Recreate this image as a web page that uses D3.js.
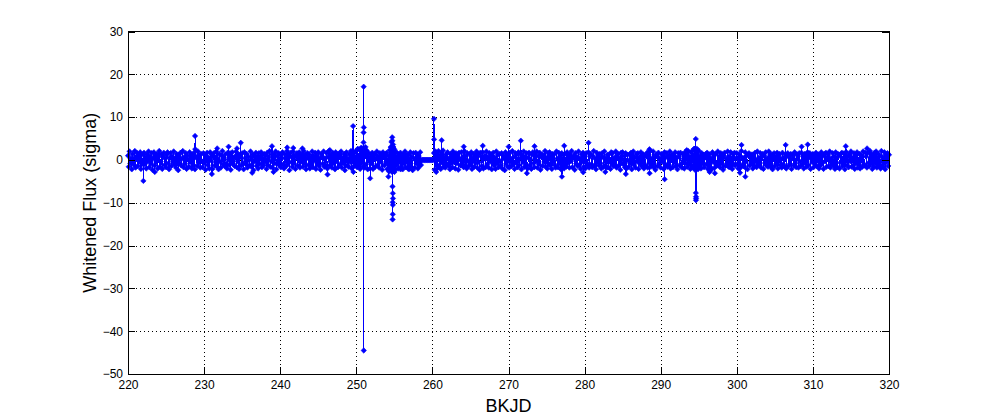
<!DOCTYPE html>
<html>
<head>
<meta charset="utf-8">
<script src="https://cdn.jsdelivr.net/npm/d3@7"></script>
<style>
  html, body { margin: 0; padding: 0; background: #fff; }
  svg { display: block; font-family: "Liberation Sans", Arial, Helvetica, sans-serif; }
</style>
</head>
<body>
<svg id="chart" width="982" height="420"></svg>
<script>
// ---- data ----
const xTicks = [220, 230, 240, 250, 260, 270, 280, 290, 300, 310, 320];
const yTicks = [-50, -40, -30, -20, -10, 0, 10, 20, 30];
const xLabel = "BKJD";
const yLabel = "Whitened Flux (sigma)";

// regularly sampled whitened flux (sigma), first sample at startBKJD, one every cadenceDays
const startBKJD = 220.0;
const cadenceDays = 0.1;
const whitenedFlux = [
  1.0,-1.6,2.0,-0.8,0.4,-2.2,1.4,0.3,-1.2,2.1,      // 220
  -1.8,0.7,1.6,-1.4,0.9,-0.4,1.8,-2.1,1.2,-0.7,     // 221
  -1.0,1.7,-1.0,0.5,-2.0,1.3,-0.3,2.0,-1.7,0.8,     // 222
  -0.9,1.6,-2.3,0.4,1.8,-1.3,1.0,-0.5,1.4,-2.0,     // 223
  0.7,2.1,-1.6,-0.4,1.3,-2.1,0.9,1.7,-1.2,0.3,      // 224
  -1.7,1.2,1.8,-0.8,-2.2,0.5,1.6,-1.4,0.8,-0.3,     // 225
  2.0,-1.0,0.4,-1.8,1.4,0.9,-2.4,1.2,-0.7,1.7,      // 226
  -1.3,0.3,2.1,-1.7,0.7,-0.9,1.6,-2.1,1.0,0.1,      // 227
  -1.6,1.8,-0.5,1.2,-2.0,1.3,-1.2,1.7,-2.2,0.8,     // 228
  0.5,-1.4,2.0,-0.7,1.0,-1.8,1.4,-0.3,-1.7,1.6,     // 229
  -0.8,1.3,-2.3,0.9,1.7,-1.2,0.4,-2.0,1.8,-0.1,     // 230
  1.2,-2.1,0.7,1.6,-1.3,-0.5,2.0,-1.6,0.3,-2.2,     // 231
  1.4,-0.4,-1.8,1.0,2.1,-1.0,0.5,-1.4,1.3,-0.8,     // 232
  -2.0,1.7,0.1,-1.2,1.6,-2.3,0.8,1.8,-0.9,0.4,      // 233
  -1.4,0.9,2.0,-1.7,-0.3,1.3,-2.1,1.2,0.7,-1.3,     // 234
  1.6,-0.7,-2.2,1.8,0.4,-1.0,1.4,-1.8,0.8,-0.1,     // 235
  -1.2,2.0,-1.6,0.5,1.3,-2.4,1.0,-0.4,1.7,-1.4,     // 236
  0.8,-2.0,1.6,-0.9,0.3,1.8,-1.7,1.2,-1.3,1.4,      // 237
  -0.5,1.0,-2.1,1.7,-1.2,0.7,2.1,-1.6,-0.3,1.3,     // 238
  -1.8,0.4,1.4,-0.8,2.0,-2.2,0.9,-0.7,1.6,-1.3,     // 239
  1.2,-1.7,0.5,1.8,-1.0,-2.0,1.3,0.3,-1.4,2.1,      // 240
  -0.9,1.4,-2.4,0.8,1.7,-0.5,-1.6,2.0,-0.8,1.0,     // 241
  -2.1,0.7,1.6,-1.3,0.1,1.8,-1.8,0.9,-0.4,1.4,      // 242
  -1.6,2.1,-0.7,1.2,-2.2,0.4,1.6,-1.2,1.3,-2.0,     // 243
  0.5,-1.0,2.0,-1.7,0.9,-0.1,1.7,-2.1,1.0,-0.8,     // 244
  1.8,-1.4,0.3,-2.3,1.4,0.8,-0.9,2.0,-1.6,0.4,      // 245
  -1.2,1.6,-2.0,0.7,2.1,-1.3,-0.4,1.2,-1.8,1.7,     // 246
  -0.7,1.0,-2.2,1.8,-0.3,1.3,-1.7,0.8,1.6,-1.0,     // 247
  2.0,-1.8,0.4,-0.8,1.4,-2.4,1.0,1.8,-1.3,0.3,      // 248
  -1.6,1.3,-0.5,2.1,-2.0,0.9,0.1,-1.4,1.7,-0.9,     // 249
  2.2,-1.7,2.6,-1.2,2.4,-2.1,2.8,-0.7,2.3,-1.6,     // 250
  2.7,-1.8,2.4,-1.0,2.1,-2.2,1.6,0.5,-2.0,1.3,      // 251
  -0.8,1.7,-2.1,1.0,1.4,-1.6,0.3,2.0,-1.2,0.7,      // 252
  -1.8,1.6,-0.4,1.2,-2.3,1.8,0.8,-1.3,1.4,-0.7,     // 253
  1.7,-2.1,0.9,-2.7,2.3,-2.4,2.9,-2.8,3.0,-2.6,     // 254
  2.4,-2.3,1.8,-1.2,1.6,-2.0,1.0,-0.5,1.7,-1.6,     // 255
  0.8,-2.2,1.4,-0.9,2.0,-1.7,0.4,1.3,-2.0,1.2,      // 256
  -1.0,1.8,-1.6,0.7,-2.4,1.6,0.3,-1.8,1.7,-0.8,     // 257
  1.3,-2.0,0.9,-1.4,1.8,-1.2,0,0,0,0,               // 258 (gap filled with zeros)
  0,0,0,0,0,0,0,0,0,0,                              // 259
  0,0,1.6,-2.3,2.0,-2.8,1.4,-1.2,2.1,-1.7,          // 260
  1.0,-2.1,1.7,-0.7,2.2,-1.6,0.5,-1.8,1.3,-0.9,     // 261
  1.8,-1.3,0.4,-2.2,1.4,0.8,-1.7,2.0,-0.5,1.2,      // 262
  -2.0,1.6,-0.8,1.0,-2.3,1.7,0.1,-1.3,1.8,-1.0,     // 263
  0.7,-1.7,2.1,-1.2,0.9,-2.0,1.6,-0.3,-1.4,1.3,     // 264
  -0.9,1.8,-2.1,0.4,1.4,-1.6,1.2,-0.7,2.0,-1.8,     // 265
  1.3,-0.5,-2.3,1.7,0.8,-1.4,1.8,-2.0,0.3,1.0,      // 266
  -1.7,2.0,-1.0,0.7,-1.8,1.6,-0.4,1.3,-2.2,0.9,     // 267
  1.7,-1.3,0.5,-2.1,2.0,-0.8,1.2,-1.7,1.4,-0.3,     // 268
  -1.2,1.6,-2.0,1.0,0.4,-2.4,1.8,-0.9,1.3,-1.6,     // 269
  0.8,-1.8,1.7,-0.4,-1.4,2.1,-1.0,0.7,-2.1,1.6,     // 270
  -0.7,1.3,-1.7,1.8,-1.2,0.3,1.4,-2.2,1.0,-0.5,     // 271
  2.0,-1.6,0.8,-1.0,1.6,-2.0,0.5,1.7,-1.3,0.1,      // 272
  -2.1,1.2,1.8,-0.8,-1.7,1.4,-0.3,2.0,-1.8,0.9,     // 273
  -1.0,1.7,-2.3,0.7,1.3,-1.4,1.0,-0.5,2.1,-1.6,     // 274
  0.4,-2.0,1.6,-0.9,1.8,-1.3,0.8,-2.1,1.4,-0.4,     // 275
  1.3,-1.2,-1.8,2.0,0.3,-1.7,1.7,-0.8,0.9,-2.2,     // 276
  1.6,-0.5,1.2,-2.0,1.4,-1.0,-1.6,1.8,-0.7,0.8,     // 277
  -1.8,1.4,-0.3,2.1,-1.7,0.5,1.0,-2.3,1.6,-0.9,     // 278
  0.7,-1.4,2.0,-1.2,0.4,-2.1,1.3,-0.4,1.7,-1.6,     // 279
  1.0,-2.0,1.6,-0.7,-1.3,1.8,-1.8,0.8,1.4,-1.0,     // 280
  -1.7,0.9,2.1,-1.4,0.3,-2.2,1.7,-0.5,1.2,-1.3,     // 281
  1.4,-0.8,-2.0,1.6,0.7,-1.6,2.0,-1.2,0.4,-1.8,     // 282
  1.2,-1.7,1.3,-0.3,-2.1,1.8,-0.9,1.6,-1.4,0.5,     // 283
  -1.2,2.0,-1.8,0.8,1.4,-1.3,0.3,-2.3,1.7,-0.7,     // 284
  1.8,-1.0,0.9,-1.7,1.6,-2.0,1.2,-0.1,-1.6,1.3,     // 285
  -0.8,1.7,-2.2,1.0,2.0,-1.2,0.5,-1.8,1.4,-0.4,     // 286
  1.6,-2.1,0.7,-0.9,1.8,-1.4,-0.5,1.3,-2.0,1.0,     // 287
  -1.3,0.8,1.7,-1.8,1.2,-0.7,2.1,-1.6,0.3,-1.2,     // 288
  2.0,-1.7,0.5,-2.3,1.3,0.9,-1.4,1.7,-0.8,0.4,      // 289
  -1.8,1.4,-0.4,1.2,-2.1,1.8,-1.0,0.7,1.6,-1.6,     // 290
  0.9,-1.2,2.0,-2.0,0.4,1.3,-1.7,1.0,-0.5,1.8,      // 291
  -1.4,0.5,-2.2,1.6,0.8,-1.3,1.7,-0.9,-1.8,1.4,     // 292
  0.3,-2.0,1.8,-0.7,1.2,-1.6,2.1,-1.0,0.7,-2.1,     // 293
  1.7,-1.2,2.2,-1.8,2.6,-2.3,2.7,-2.0,2.4,-2.2,     // 294
  2.1,-1.4,1.0,-2.0,1.6,-0.8,1.2,-1.7,0.5,1.4,      // 295
  -1.0,1.7,-2.1,0.7,1.3,-1.6,0.4,-2.2,1.8,-0.5,     // 296
  1.2,-1.8,1.4,-0.8,-1.3,2.0,-1.2,0.9,-1.7,1.6,     // 297
  -0.7,1.3,-2.3,1.0,1.7,-1.4,0.3,-0.9,2.0,-1.6,     // 298
  0.8,-1.7,1.8,-0.5,-2.1,1.4,-1.0,1.7,-1.3,0.4,     // 299
  1.6,-0.9,-2.0,1.3,0.7,-1.8,2.1,-1.2,0.5,-1.4,     // 300
  -1.6,1.8,-0.4,1.0,-2.2,1.2,1.6,-1.3,0.8,-0.7,     // 301
  1.3,-2.0,0.9,-1.4,1.7,-0.3,-1.7,2.0,-1.0,0.5,     // 302
  -1.2,1.6,-1.8,0.7,1.4,-2.1,1.0,-0.7,1.8,-1.3,     // 303
  0.4,-1.6,2.0,-0.9,1.2,-1.7,1.3,-2.2,0.8,1.6,      // 304
  -1.4,0.7,-0.8,1.7,-2.0,1.0,1.4,-1.2,0.3,-1.8,     // 305
  1.7,-1.0,0.5,-1.6,1.3,-2.0,0.9,1.6,-1.4,0.7,      // 306
  -0.9,1.4,-2.1,1.2,0.4,-1.3,1.8,-0.8,-1.7,1.3,     // 307
  1.0,-1.8,1.6,-0.4,-1.4,1.7,-1.0,0.8,-2.0,1.4,     // 308
  -0.8,1.3,-1.6,1.8,-1.2,0.5,1.6,-2.1,0.9,-0.5,     // 309
  1.4,-1.7,0.7,-1.0,1.7,-1.4,0.3,1.3,-2.0,1.0,      // 310
  -1.3,1.8,-0.7,0.9,-2.1,1.4,-0.3,1.7,-1.6,0.5,     // 311
  1.2,-1.4,2.0,-1.8,0.4,-0.9,1.6,-1.3,0.8,-2.1,     // 312
  1.8,-0.7,-1.7,1.4,0.9,-2.0,1.3,-0.5,1.7,-1.4,     // 313
  -1.0,1.6,-2.2,0.8,1.8,-1.2,0.7,-1.7,1.3,-0.3,     // 314
  2.0,-1.6,0.4,-1.3,1.6,-2.1,1.0,-0.8,1.8,-1.8,     // 315
  -0.4,1.4,-2.0,1.2,0.5,-1.6,2.0,-1.0,-1.3,1.7,     // 316
  0.8,-1.8,1.6,-0.7,-1.4,2.1,-0.9,1.3,-2.1,1.0,     // 317
  -1.6,1.7,-0.8,2.0,-1.8,0.3,1.4,-1.3,0.9,-2.0,     // 318
  2.1,-1.2,0.7,-1.7,1.8,-2.2,1.3,-0.5,1.6,-1.4,     // 319
  1.2                                               // 320
];

// outlier samples: times (BKJD) and values (sigma)
const outlierTimes = [
  222.02, 223.52, 228.81, 228.83, 231.02, 231.72, 233.22, 234.32, 234.82, 236.32,
  238.92, 239.12, 240.92, 241.72, 242.92, 246.22, 246.52, 249.58, 249.62,
  250.52, 250.72, 250.95, 250.96, 250.97, 250.98, 250.99, 251.22, 251.82,
  254.12, 254.22, 254.52, 254.62, 254.72, 254.74, 254.76, 254.77, 254.78, 254.79,
  254.80, 254.81, 254.82, 254.83, 254.86, 254.92, 255.02, 255.82, 256.92,
  260.21, 260.22, 260.52, 261.22, 264.12, 266.62, 270.02, 271.62, 272.42, 273.42,
  277.02, 277.32, 279.82, 280.52, 282.72, 285.42, 288.52, 288.54, 290.52, 293.42,
  294.42, 294.61, 294.62, 294.63, 294.64, 294.65, 294.66, 294.82, 296.42, 297.12,
  300.42, 300.62, 301.12, 306.42, 308.52, 309.32, 314.32, 317.12
];
const outlierFlux = [
  -4.9, -2.8, 5.6, 2.5, -3.3, 2.7, 3.1, 2.7, 4.0, -3.0,
  3.2, -2.8, 2.9, 2.8, 2.7, -3.4, 2.3, 7.9, -2.8,
  2.5, 2.8, 4.1, 6.4, 17.1, -44.5, 7.6, 3.0, -4.3,
  -2.2, -3.9, 3.0, 4.2, 5.3, 4.5, -6.2, -13.9, -9.9, -12.7,
  -7.8, -10.5, -9.0, 3.6, 3.0, 2.6, -2.8, -2.2, -2.2,
  9.6, 4.8, -2.2, 4.6, 3.1, 3.3, 3.1, 4.5, -3.1, 3.2,
  -3.9, 3.3, -2.9, 4.0, -2.8, -3.3, 2.5, -3.1, -4.5, 2.3,
  2.6, 4.9, -7.7, -9.4, -8.6, -9.0, 2.4, 2.5, -2.8, -3.1,
  -3.0, 3.5, -3.9, 3.5, 3.1, 3.6, 3.2, 2.7
];

// ---- build ----
const W = 982, H = 420;
const margin = { left: 128, right: 982 - 889, top: 31.5, bottom: 420 - 374 };
const svg = d3.select("#chart");

const series = whitenedFlux.map((v, i) => ({ t: startBKJD + i * cadenceDays, v }))
  .concat(outlierTimes.map((t, i) => ({ t, v: outlierFlux[i] })))
  .sort((a, b) => a.t - b.t);

const x = d3.scaleLinear().domain([220, 320]).range([margin.left, W - margin.right]);
const y = d3.scaleLinear().domain([-50, 30]).range([H - margin.bottom, margin.top]);

// grid
const grid = svg.append("g").attr("stroke", "#000").attr("stroke-width", 1)
  .attr("stroke-dasharray", "1,3").attr("shape-rendering", "crispEdges");
grid.selectAll("line.gx").data(xTicks.slice(1, -1)).join("line")
  .attr("x1", d => Math.round(x(d)) + 0.5).attr("x2", d => Math.round(x(d)) + 0.5)
  .attr("y1", y(30)).attr("y2", y(-50));
grid.selectAll("line.gy").data(yTicks.slice(1, -1)).join("line")
  .attr("y1", d => Math.round(y(d)) + 0.5).attr("y2", d => Math.round(y(d)) + 0.5)
  .attr("x1", x(220)).attr("x2", x(320));

// data
const g = svg.append("g");
g.append("path").datum(series)
  .attr("fill", "none").attr("stroke", "#0000ff").attr("stroke-width", 1)
  .attr("shape-rendering", "crispEdges")
  .attr("d", d3.line().x(d => x(d.t)).y(d => y(d.v)));
const mk = 2.7;
g.selectAll("path.mk").data(series).join("path")
  .attr("class", "mk")
  .attr("transform", d => `translate(${x(d.t)},${y(d.v)})`)
  .attr("d", `M0,${-mk}L${mk},0L0,${mk}L${-mk},0Z`)
  .attr("fill", "#0000ff").attr("stroke", "#0000ff").attr("stroke-width", 0.6);

// axes
const tickLen = 7;
const fmt = d3.format("d");
const axB = svg.append("g").attr("transform", `translate(0,${y(-50)})`)
  .call(d3.axisBottom(x).tickValues(xTicks).tickFormat(fmt).tickSizeInner(-tickLen).tickSizeOuter(0).tickPadding(6));
const axT = svg.append("g").attr("transform", `translate(0,${y(30)})`)
  .call(d3.axisTop(x).tickValues(xTicks).tickFormat("").tickSizeInner(-tickLen).tickSizeOuter(0));
const axL = svg.append("g").attr("transform", `translate(${x(220)},0)`)
  .call(d3.axisLeft(y).tickValues(yTicks).tickFormat(fmt).tickSizeInner(-tickLen).tickSizeOuter(0).tickPadding(5));
const axR = svg.append("g").attr("transform", `translate(${x(320)},0)`)
  .call(d3.axisRight(y).tickValues(yTicks).tickFormat("").tickSizeInner(-tickLen).tickSizeOuter(0));
[axB, axT, axL, axR].forEach(a => {
  a.select(".domain").remove();
  a.selectAll("line").attr("stroke", "#000").attr("shape-rendering", "crispEdges");
  a.selectAll("text").attr("fill", "#000").style("font-size", "12px")
    .style("font-family", '"Liberation Sans", Arial, Helvetica, sans-serif');
});

// box
svg.append("rect").attr("x", x(220)).attr("y", y(30))
  .attr("width", x(320) - x(220)).attr("height", y(-50) - y(30))
  .attr("fill", "none").attr("stroke", "#000").attr("stroke-width", 1)
  .attr("shape-rendering", "crispEdges");

// labels
svg.append("text").attr("x", (x(220) + x(320)) / 2).attr("y", 412)
  .attr("text-anchor", "middle").style("font-size", "18px").attr("fill", "#000")
  .text(xLabel);
svg.append("text").attr("transform", `translate(96,${(y(30) + y(-50)) / 2}) rotate(-90)`)
  .attr("text-anchor", "middle").style("font-size", "18px").attr("fill", "#000")
  .text(yLabel);
</script>
</body>
</html>
